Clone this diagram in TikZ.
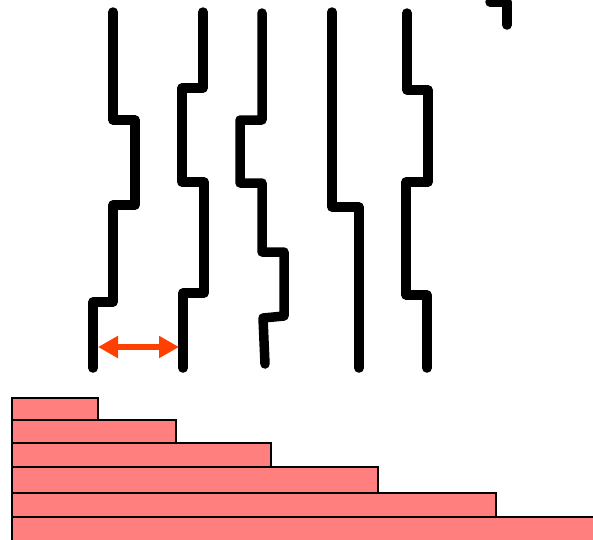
\documentclass[tikz,border=0pt]{standalone}
\usetikzlibrary{arrows.meta}
\definecolor{barfill}{HTML}{FF7F7F}
\definecolor{gaparrow}{HTML}{FF4000}
\tikzset{
  wire/.style={line width=9.5pt, line cap=round, line join=round, black},
  bar/.style={draw=black, line width=2pt, fill=barfill},
  gap/.style={gaparrow, line width=6.5pt,
    {Triangle[length=20pt,width=21pt]}-{Triangle[length=20pt,width=21pt]}}
}
\begin{document}
\begin{tikzpicture}[x=1pt, y=-1pt]
  \useasboundingbox (0,0) rectangle (593,539);
  \clip (0,0) rectangle (593,539);

  % stepped strands
  \draw[wire] (113,12) -- (113,120) -- (135,120) -- (135,205) -- (113,205)
              -- (113,302) -- (93,302) -- (93,368);
  \draw[wire] (203,12) -- (203,88) -- (182,88) -- (182,182) -- (204,182)
              -- (204,293) -- (183,293) -- (183,368);
  \draw[wire] (262,13) -- (262,120) -- (240,120) -- (240,183) -- (262,183)
              -- (262,252) -- (284,252) -- (284,316) -- (263,318) -- (265,364);
  \draw[wire] (332,12) -- (332,207) -- (359,207) -- (359,368);
  \draw[wire] (407,13) -- (407,90) -- (428,90) -- (428,182) -- (406,182)
              -- (406,295) -- (427,295) -- (427,368);
  \draw[wire] (490,2) -- (507,2) -- (507,25);

  % spacing arrow between the first two strands
  \coordinate (gapL) at (98,347);
  \coordinate (gapR) at (179,347);
  \draw[gap] (gapL) -- (gapR);

  % staircase of bars
  \draw[bar] (12,517) rectangle (605,550);
  \draw[bar] (12,493) rectangle (496,517);
  \draw[bar] (12,467) rectangle (378,493);
  \draw[bar] (12,443) rectangle (271,467);
  \draw[bar] (12,420) rectangle (176,443);
  \draw[bar] (12,398) rectangle (98,420);
\end{tikzpicture}
\end{document}
